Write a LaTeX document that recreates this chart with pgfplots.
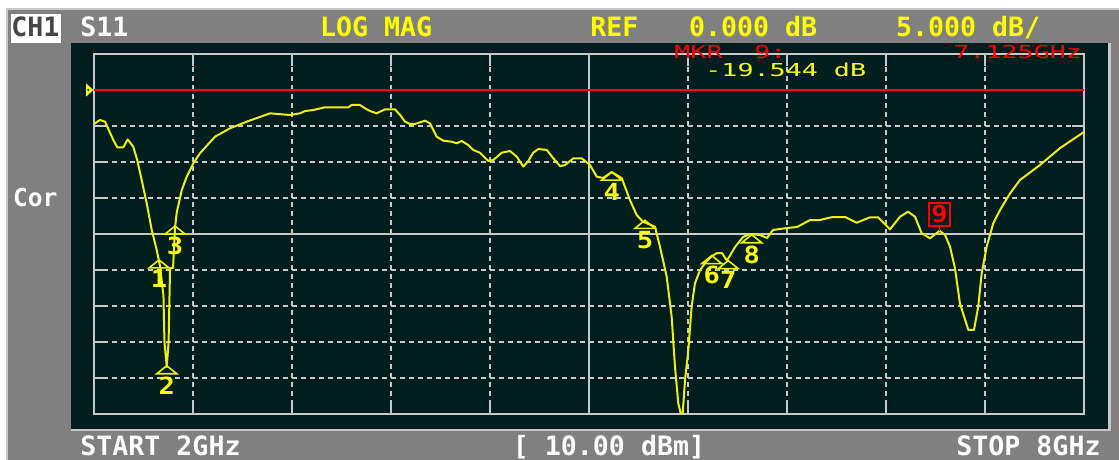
\documentclass[border=0pt]{standalone}
\usepackage{fontspec}
\usepackage{pgfplots}
\pgfplotsset{compat=1.18}
\newfontfamily\mono{DejaVu Sans Mono}
\newfontfamily\mkr[FakeStretch=1.5]{DejaVu Sans Mono}
\newfontfamily\mdig[FakeStretch=1.15]{DejaVu Sans Mono}
\newcommand\hfont{\mono\bfseries\fontsize{13.3}{14}\selectfont}
\newcommand\cfont{\mono\bfseries\fontsize{12.3}{13}\selectfont}
\newcommand\mfont{\mdig\bfseries\fontsize{11.8}{12}\selectfont}
\newcommand\kfont{\mkr\fontsize{8.9}{10}\selectfont}
\definecolor{scr}{RGB}{0,30,30}
\definecolor{panel}{RGB}{128,128,128}
\definecolor{gridc}{RGB}{200,200,200}
\definecolor{trc}{RGB}{240,240,0}
\definecolor{yel}{RGB}{255,255,0}
\definecolor{rd}{RGB}{255,0,0}
\definecolor{chtxt}{RGB}{70,70,70}
\pgfdeclareplotmark{mtri}{%
  \pgfpathmoveto{\pgfpoint{-5pt}{-4pt}}%
  \pgfpathlineto{\pgfpoint{0pt}{0pt}}%
  \pgfpathlineto{\pgfpoint{5pt}{-4pt}}%
  \pgfpathclose
  \pgfusepathqstroke}
\pgfdeclareplotmark{mtick}{%
  \pgfpathmoveto{\pgfpoint{0pt}{0pt}}%
  \pgfpathlineto{\pgfpoint{0pt}{2pt}}%
  \pgfusepathqstroke}
\begin{document}
\begin{tikzpicture}[x=0.5pt,y=0.5pt]
\useasboundingbox (0,0) rectangle (1119,460);
\fill[white] (0,0) rectangle (1119,460);
\fill[panel] (6,0) rectangle (1119,451);
\draw[gridc, line width=1pt] (7,0) -- (7,450.5) -- (1119,450.5);
\fill[scr] (71,31) rectangle (1108,417);
\draw[gridc, line width=1.2pt] (71,30) -- (1109.5,30) -- (1109.5,417);
% header
\fill[white] (10.7,417) rectangle (60.7,445.7);
\node[anchor=base west, inner sep=0pt, text=chtxt] at (11,423.2) {\hfont CH1};
\node[anchor=base west, inner sep=0pt, text=white] at (80,423.2) {\hfont S11};
\node[anchor=base west, inner sep=0pt, text=yel] at (319.6,423.2) {\hfont LOG MAG};
\node[anchor=base west, inner sep=0pt, text=yel] at (590,423.2) {\hfont REF};
\node[anchor=base west, inner sep=0pt, text=yel] at (688.6,423.2) {\hfont 0.000 dB};
\node[anchor=base west, inner sep=0pt, text=yel] at (895.7,423.2) {\hfont 5.000 dB/};
% footer
\node[anchor=base west, inner sep=0pt, text=white] at (80,4.3) {\hfont START 2GHz};
\node[anchor=base west, inner sep=0pt, text=white] at (512.5,4.3) {\hfont [ 10.00 dBm]};
\node[anchor=base west, inner sep=0pt, text=white] at (956,4.3) {\hfont STOP 8GHz};
\node[anchor=base west, inner sep=0pt, text=white] at (12.7,253.3) {\cfont Cor};
\begin{axis}[
  at={(47pt,23pt)}, anchor=south west, scale only axis,
  width=495pt, height=180pt,
  xmin=2, xmax=8, ymin=-45, ymax=5,
  axis line style={gridc, line width=1pt},
  xtick={2.6,3.2,3.8,4.4,5.6,6.2,6.8,7.4},
  ytick={-40,-35,-30,-25,-15,-10,-5,0},
  xticklabels={}, yticklabels={},
  tick align=inside, xtick pos=both, ytick pos=both,
  major tick length=6pt,
  tick style={gridc, line width=1pt, solid},
  grid=major,
  major grid style={gridc, line width=1pt, dash pattern=on 2.5pt off 2pt},
  extra x ticks={5}, extra y ticks={-20},
  extra x tick labels={}, extra y tick labels={},
  extra tick style={major grid style={gridc, line width=1pt, solid}},
]
\addplot[rd, line width=1pt] coordinates {(2,0) (8,0)};
\addplot[trc, line width=1pt, line join=round] coordinates {
(2.000,-4.72) (2.036,-4.17) (2.067,-4.40) (2.117,-6.94) (2.141,-7.96)
(2.178,-7.96) (2.204,-6.85) (2.238,-7.88) (2.262,-9.72) (2.289,-12.50)
(2.319,-15.69) (2.350,-19.44) (2.380,-22.22) (2.400,-24.44) (2.421,-28.61)
(2.427,-35.00) (2.441,-38.47) (2.452,-35.00) (2.461,-24.72) (2.479,-24.72)
(2.491,-19.17) (2.501,-17.08) (2.532,-13.89) (2.562,-12.04) (2.602,-10.18)
(2.642,-8.79) (2.733,-6.49) (2.824,-5.32) (2.925,-4.40) (3.067,-3.24)
(3.188,-3.47) (3.248,-3.24) (3.279,-2.92) (3.329,-2.78) (3.400,-2.40)
(3.541,-2.40) (3.562,-2.08) (3.612,-2.08) (3.642,-2.54) (3.673,-2.92)
(3.713,-3.24) (3.764,-2.68) (3.824,-2.68) (3.855,-3.47) (3.885,-4.40)
(3.915,-4.72) (3.945,-4.72) (3.976,-4.49) (4.006,-4.26) (4.036,-4.63)
(4.077,-6.49) (4.117,-7.04) (4.168,-7.18) (4.198,-7.40) (4.228,-7.08)
(4.268,-7.64) (4.299,-8.33) (4.339,-8.71) (4.390,-9.86) (4.420,-9.72)
(4.471,-8.71) (4.521,-8.47) (4.562,-9.26) (4.602,-10.65) (4.632,-9.86)
(4.662,-8.71) (4.693,-8.19) (4.744,-8.33) (4.784,-9.49) (4.824,-10.56)
(4.855,-10.42) (4.905,-9.49) (4.956,-9.49) (5.006,-10.42) (5.047,-12.04)
(5.085,-12.22) (5.138,-11.40) (5.198,-12.22) (5.248,-15.28) (5.289,-17.36)
(5.327,-18.29) (5.400,-18.99) (5.430,-21.76) (5.471,-25.93) (5.501,-31.49)
(5.521,-38.43) (5.541,-43.51) (5.565,-45.83) (5.582,-40.28) (5.602,-36.11)
(5.622,-30.10) (5.642,-26.85) (5.673,-25.00) (5.709,-23.89) (5.745,-23.06)
(5.776,-22.64) (5.806,-22.64) (5.836,-23.70) (5.885,-21.81) (5.933,-20.42)
(5.976,-20.00) (6.036,-20.14) (6.079,-20.56) (6.115,-19.44) (6.200,-19.17)
(6.261,-19.03) (6.339,-18.06) (6.400,-18.06) (6.448,-17.78) (6.479,-17.64)
(6.552,-17.64) (6.622,-18.43) (6.703,-17.68) (6.752,-17.68) (6.824,-19.35)
(6.885,-17.60) (6.933,-16.90) (6.976,-17.60) (7.016,-19.90) (7.067,-20.60)
(7.125,-19.54) (7.158,-20.14) (7.188,-21.76) (7.218,-24.76) (7.248,-29.63)
(7.299,-33.33) (7.333,-33.33) (7.359,-30.10) (7.380,-25.46) (7.410,-21.76)
(7.450,-18.51) (7.491,-16.67) (7.552,-14.35) (7.612,-12.50) (7.733,-10.42)
(7.855,-8.06) (7.945,-6.67) (8.000,-5.83)
};
\addplot[trc, line width=0.8pt, only marks, mark=mtri,
  point meta=explicit symbolic, nodes near coords,
  every node near coord/.append style={anchor=north, inner sep=0pt, yshift=-5pt, font=\mfont, text=yel}]
  coordinates {
(2.394,-23.6)[1] (2.441,-38.3)[2] (2.491,-18.9)[3] (5.138,-11.4)[4]
(5.339,-18.1)[5] (5.744,-23.0)[6] (5.844,-23.7)[7] (5.986,-20.1)[8]
};
\addplot[rd, line width=0.8pt, only marks, mark=mtick,
  point meta=explicit symbolic, nodes near coords,
  every node near coord/.append style={anchor=south, yshift=2pt, draw=rd, line width=0.8pt, text=rd, font=\mfont, inner sep=0pt, minimum width=10.5pt, minimum height=11.5pt}]
  coordinates {(7.125,-19.544)[9]};
\end{axis}
% reference pointer
\fill[yel] (86,376.7) -- (93.3,370) -- (86,363.3) -- cycle;
\fill[scr] (88.3,370) circle (1.2);
% marker readout
\node[anchor=base west, inner sep=0pt, text=rd] at (674,401.7) {\kfont MKR};
\node[anchor=base west, inner sep=0pt, text=rd] at (754,401.7) {\kfont 9:};
\node[anchor=base west, inner sep=0pt, text=rd] at (953,401.7) {\kfont 7.125GHz};
\node[anchor=base west, inner sep=0pt, text=yel] at (705,383.3) {\kfont -19.544 dB};
\end{tikzpicture}
\end{document}
